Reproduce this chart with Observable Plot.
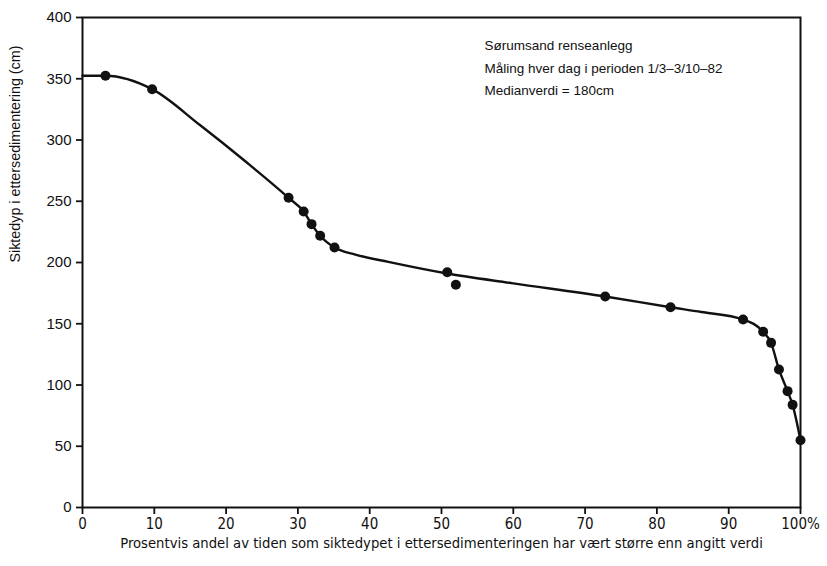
<!DOCTYPE html>
<html>
<head>
<meta charset="utf-8">
<script src="https://cdn.jsdelivr.net/npm/d3@7"></script>
<script src="https://cdn.jsdelivr.net/npm/@observablehq/plot@0.6"></script>
<style>
  html, body { margin: 0; padding: 0; background: #fff; }
  #chart svg { display: block; }
</style>
</head>
<body>
<div id="chart"></div>
<script>
// Measured points: % of time (x) vs. Secchi depth in cm (y)
const pointX = [3.2, 9.7, 28.7, 30.8, 31.9, 33.1, 35.1, 50.8, 52.0, 72.8, 81.9, 92.0, 94.8, 95.9, 97.0, 98.2, 98.9, 100];
const pointY = [352.5, 341.5, 252.8, 241.6, 231.3, 221.8, 212.2, 192.1, 181.8, 172.2, 163.5, 153.5, 143.4, 134.4, 112.7, 95.0, 83.8, 54.9];

// Hand-drawn smooth curve through the points
const curveX = [0, 3.2, 9.7, 16.4, 22.8, 28.7, 30.8, 31.9, 33.1, 35.1, 38, 42.6, 50.8, 60, 72.8, 81.9, 86.2, 92.0, 94.8, 95.9, 97.0, 98.2, 98.9, 100];
const curveY = [352.5, 352.5, 341.5, 312, 282, 252.8, 241.6, 231.3, 221.8, 212.2, 206.5, 200.5, 191, 183, 172.2, 163.5, 159.6, 153.5, 143.4, 134.4, 112.7, 95.0, 83.8, 54.9];

const xTicks = [0, 10, 20, 30, 40, 50, 60, 70, 80, 90, 100];
const yTicks = [0, 50, 100, 150, 200, 250, 300, 350, 400];

const notes = ["Sørumsand renseanlegg", "Måling hver dag i perioden 1/3–3/10–82", "Medianverdi = 180cm"];
const noteY = [377, 358.6, 340.4];
const noteX = 56;
const xTitle = "Prosentvis andel av tiden som siktedypet i ettersedimenteringen har vært større enn angitt verdi";
const yTitle = "Siktedyp i ettersedimentering (cm)";

const points = pointX.map((x, i) => ({x, y: pointY[i]}));
const curve = curveX.map((x, i) => ({x, y: curveY[i]}));
const noteRows = notes.map((t, i) => ({t, x: noteX, y: noteY[i]}));

const sans = "'Liberation Sans', Arial, Helvetica, sans-serif";
const narrow = "'Liberation Sans Narrow', 'Arial Narrow', 'DejaVu Sans Condensed', sans-serif";

const chart = Plot.plot({
  width: 827,
  height: 566,
  marginLeft: 82,
  marginRight: 27,
  marginTop: 17,
  marginBottom: 59,
  style: {fontFamily: sans, color: "#111", background: "#fff"},
  x: {domain: [0, 100]},
  y: {domain: [0, 400]},
  marks: [
    Plot.axisX({
      ticks: xTicks,
      tickSize: 7,
      tickPadding: 4,
      tickFormat: d => d === 100 ? "100%" : String(d),
      fontSize: 15,
      fontFamily: narrow,
      strokeWidth: 1.8,
      label: null
    }),
    Plot.axisY({
      ticks: yTicks,
      tickSize: 6,
      tickPadding: 5,
      fontSize: 15,
      strokeWidth: 1.8,
      label: null
    }),
    Plot.frame({stroke: "#111", strokeWidth: 2}),
    Plot.line(curve, {x: "x", y: "y", curve: "monotone-x", stroke: "#111", strokeWidth: 2.4}),
    Plot.dot(points, {x: "x", y: "y", r: 5, fill: "#111", stroke: "none"}),
    Plot.text(noteRows, {
      x: "x",
      y: "y",
      text: "t",
      textAnchor: "start",
      fontSize: 13.5,
      fill: "#111"
    }),
    Plot.text([xTitle], {
      frameAnchor: "bottom",
      text: d => d,
      dy: 40,
      fontSize: 14.7,
      fontFamily: narrow,
      fill: "#111"
    }),
    Plot.text([yTitle], {
      frameAnchor: "left",
      text: d => d,
      rotate: -90,
      dx: -67,
      fontSize: 14.3,
      fill: "#111"
    })
  ]
});

document.getElementById("chart").appendChild(chart);
</script>
</body>
</html>
